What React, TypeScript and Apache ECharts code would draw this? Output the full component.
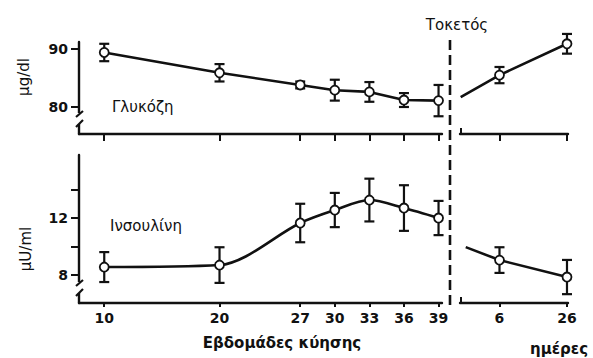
import React, { useEffect, useRef } from "react";
import * as echarts from "echarts";

// Weeks of gestation (pre-delivery) and days after delivery
const weeks = [10, 20, 27, 30, 33, 36, 39];
const dayTicks = [6, 26];

// Glucose (μg/dl)
const glucoseWeeks = [89.4, 85.9, 83.8, 82.9, 82.6, 81.2, 81.1];
const glucoseWeeksErr = [1.5, 1.5, 0.6, 1.8, 1.7, 1.2, 2.7];
const glucoseDaysX = [-5.5, 6, 26];
const glucoseDays = [81.7, 85.5, 90.9];
const glucoseDaysErr = [0, 1.4, 1.7];

// Insulin (μU/ml)
const insulinWeeks = [8.56, 8.7, 11.65, 12.56, 13.26, 12.7, 12.0];
const insulinWeeksErr = [1.05, 1.25, 1.35, 1.2, 1.5, 1.6, 1.2];
const insulinDaysX = [-4, 6, 26];
const insulinDays = [9.96, 9.05, 7.86];
const insulinDaysErr = [0, 0.9, 1.2];

// Tick labels
const glucoseTicks = [80, 90];
const insulinTicks = [8, 10, 12, 14];
const insulinLabels = [8, 12];

const FONT = "DejaVu Sans";
const BLACK = "#111";

const errRenderItem = (params: any, api: any) => {
  const x = api.value(0);
  const y = api.value(1);
  const e = api.value(2);
  if (!e) return { type: "group", children: [] };
  const top = api.coord([x, y + e]);
  const bot = api.coord([x, y - e]);
  const hw = 5;
  const style = { stroke: BLACK, lineWidth: 2.2 };
  return {
    type: "group",
    children: [
      { type: "line", shape: { x1: top[0], y1: top[1], x2: bot[0], y2: bot[1] }, style },
      { type: "line", shape: { x1: top[0] - hw, y1: top[1], x2: top[0] + hw, y2: top[1] }, style },
      { type: "line", shape: { x1: bot[0] - hw, y1: bot[1], x2: bot[0] + hw, y2: bot[1] }, style },
    ],
  };
};

export default function App() {
  const ref = useRef<HTMLDivElement>(null);
  useEffect(() => {
    if (!ref.current) return;
    const chart = echarts.init(ref.current, null, { renderer: "svg" });

    const axisLine = { show: true, onZero: false, lineStyle: { color: BLACK, width: 2.4 } };
    const xMinW = 7.81, xMaxW = 39.3, xMinD = -5.7, xMaxD = 26.3;
    const gMin = 75.34, gMax = 91.21, iMin = 6.04, iMax = 16.42;

    const lineStyleCommon = { color: BLACK, width: 2.6 };
    const itemStyle = { color: "#fff", borderColor: BLACK, borderWidth: 1.8 };

    const mkLine = (xi: number, xs: number[], ys: number[], smooth: number | boolean, skipFirst: boolean) => ({
      type: "line",
      xAxisIndex: xi,
      yAxisIndex: xi,
      data: xs.map((x, i) =>
        skipFirst && i === 0 ? { value: [x, ys[i]], symbol: "none" } : { value: [x, ys[i]] }
      ),
      symbol: "circle",
      symbolSize: 9,
      smooth,
      lineStyle: lineStyleCommon,
      itemStyle,
      z: 3,
      silent: true,
    });
    const mkErr = (xi: number, xs: number[], ys: number[], es: number[]) => ({
      type: "custom",
      xAxisIndex: xi,
      yAxisIndex: xi,
      renderItem: errRenderItem,
      data: xs.map((x, i) => [x, ys[i], es[i]]),
      encode: { x: 0, y: 1 },
      z: 2,
      silent: true,
    });

    const textStyle = (size: number, weight: any = "normal") => ({
      fill: BLACK,
      fontFamily: FONT,
      fontSize: size,
      fontWeight: weight,
    });

    const tickLabel = { color: BLACK, fontFamily: FONT, fontSize: 14, fontWeight: "bold" };

    const option: any = {
      animation: false,
      backgroundColor: "#fff",
      grid: [
        { left: 79, top: 42, width: 363, height: 92 },
        { left: 460, top: 42, width: 108, height: 92 },
        { left: 79, top: 155, width: 363, height: 148 },
        { left: 460, top: 155, width: 108, height: 148 },
      ],
      xAxis: [
        {
          gridIndex: 0, type: "value", min: xMinW, max: xMaxW, axisLine,
          axisTick: { show: true, customValues: weeks, length: 7, lineStyle: { color: BLACK, width: 2 } },
          axisLabel: { show: false }, splitLine: { show: false },
        },
        {
          gridIndex: 1, type: "value", min: xMinD, max: xMaxD, axisLine,
          axisTick: { show: true, customValues: dayTicks, length: 7, lineStyle: { color: BLACK, width: 2 } },
          axisLabel: { show: false }, splitLine: { show: false },
        },
        {
          gridIndex: 2, type: "value", min: xMinW, max: xMaxW, axisLine,
          axisTick: { show: true, customValues: weeks, length: 4, lineStyle: { color: BLACK, width: 2 } },
          axisLabel: { show: true, customValues: weeks, margin: 8, ...tickLabel },
          splitLine: { show: false },
        },
        {
          gridIndex: 3, type: "value", min: xMinD, max: xMaxD, axisLine,
          axisTick: { show: true, customValues: dayTicks, length: 4, lineStyle: { color: BLACK, width: 2 } },
          axisLabel: { show: true, customValues: dayTicks, margin: 8, ...tickLabel },
          splitLine: { show: false },
        },
      ],
      yAxis: [
        {
          gridIndex: 0, type: "value", min: gMin, max: gMax, axisLine,
          axisTick: { show: true, customValues: glucoseTicks, length: 8, lineStyle: { color: BLACK, width: 2 } },
          axisLabel: { show: true, customValues: glucoseTicks, margin: 11, ...tickLabel },
          splitLine: { show: false },
        },
        { gridIndex: 1, type: "value", min: gMin, max: gMax, show: false },
        {
          gridIndex: 2, type: "value", min: iMin, max: iMax, axisLine,
          axisTick: { show: true, customValues: insulinTicks, length: 8, lineStyle: { color: BLACK, width: 2 } },
          axisLabel: { show: true, customValues: insulinLabels, margin: 11, ...tickLabel },
          splitLine: { show: false },
        },
        { gridIndex: 3, type: "value", min: iMin, max: iMax, show: false },
      ],
      series: [
        mkErr(0, weeks, glucoseWeeks, glucoseWeeksErr),
        mkLine(0, weeks, glucoseWeeks, false, false),
        mkErr(1, glucoseDaysX, glucoseDays, glucoseDaysErr),
        mkLine(1, glucoseDaysX, glucoseDays, false, true),
        mkErr(2, weeks, insulinWeeks, insulinWeeksErr),
        mkLine(2, weeks, insulinWeeks, 0.3, false),
        mkErr(3, insulinDaysX, insulinDays, insulinDaysErr),
        mkLine(3, insulinDaysX, insulinDays, false, true),
      ],
      graphic: [
        // delivery dashed line
        {
          type: "line", shape: { x1: 450, y1: 40, x2: 450, y2: 308 },
          style: { stroke: BLACK, lineWidth: 2.6, lineDash: [10, 5] }, z: 10,
        },
        // axis breaks (top)
        { type: "rect", shape: { x: 73, y: 113, width: 12, height: 11 }, style: { fill: "#fff" }, z: 20 },
        { type: "line", shape: { x1: 76, y1: 117, x2: 83, y2: 111 }, style: { stroke: BLACK, lineWidth: 2.2 }, z: 21 },
        { type: "line", shape: { x1: 76, y1: 127, x2: 83, y2: 120 }, style: { stroke: BLACK, lineWidth: 2.2 }, z: 21 },
        // axis breaks (bottom)
        { type: "rect", shape: { x: 73, y: 282, width: 12, height: 11 }, style: { fill: "#fff" }, z: 20 },
        { type: "line", shape: { x1: 76, y1: 286, x2: 83, y2: 280 }, style: { stroke: BLACK, lineWidth: 2.2 }, z: 21 },
        { type: "line", shape: { x1: 76, y1: 296, x2: 83, y2: 289 }, style: { stroke: BLACK, lineWidth: 2.2 }, z: 21 },
        // small hooks at the start of the post-delivery axes
        { type: "line", shape: { x1: 461, y1: 128, x2: 461, y2: 135 }, style: { stroke: BLACK, lineWidth: 2 }, z: 21 },
        { type: "line", shape: { x1: 461, y1: 297, x2: 461, y2: 304 }, style: { stroke: BLACK, lineWidth: 2 }, z: 21 },
        // texts
        {
          type: "text", x: 457, y: 25,
          style: { text: "Τοκετός", align: "center", verticalAlign: "middle", ...textStyle(15) },
        },
        {
          type: "text", x: 112, y: 107,
          style: { text: "Γλυκόζη", align: "left", verticalAlign: "middle", ...textStyle(15) },
        },
        {
          type: "text", x: 110, y: 226,
          style: { text: "Ινσουλίνη", align: "left", verticalAlign: "middle", ...textStyle(15) },
        },
        {
          type: "text", x: 24, y: 77, rotation: Math.PI / 2,
          style: { text: "μg/dl", align: "center", verticalAlign: "middle", ...textStyle(15) },
        },
        {
          type: "text", x: 26, y: 249, rotation: Math.PI / 2,
          style: { text: "μU/ml", align: "center", verticalAlign: "middle", ...textStyle(15) },
        },
        {
          type: "text", x: 282, y: 343,
          style: { text: "Εβδομάδες κύησης", align: "center", verticalAlign: "middle", ...textStyle(15, "bold") },
        },
        {
          type: "text", x: 559, y: 349,
          style: { text: "ημέρες", align: "center", verticalAlign: "middle", ...textStyle(15, "bold") },
        },
      ],
    };
    chart.setOption(option);
    return () => chart.dispose();
  }, []);
  return (
    <div
      ref={ref}
      style={{ position: "absolute", left: 0, top: 0, width: 593, height: 358, background: "#fff" }}
    />
  );
}
